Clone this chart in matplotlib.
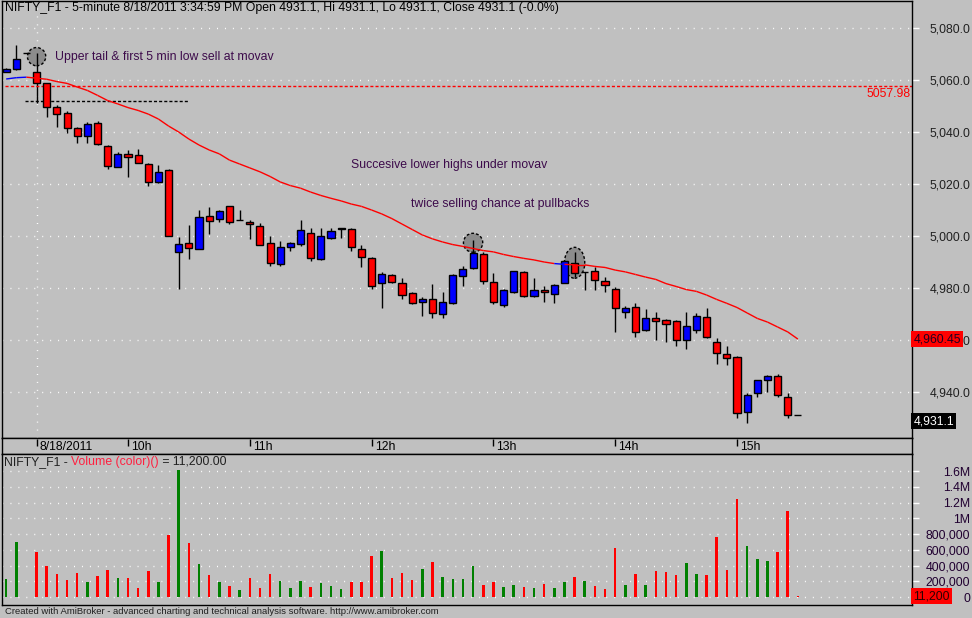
import numpy as np
import matplotlib
matplotlib.use("Agg")
import matplotlib.pyplot as plt
from matplotlib.patches import Ellipse
from matplotlib.collections import LineCollection
from matplotlib.transforms import blended_transform_factory

plt.rcParams['font.family'] = ['Liberation Sans', 'DejaVu Sans']

# 5-minute bars, 8/18/2011
opens = [5063.2, 5064.2, 5070.4, 5063.2, 5058.8, 5049.6, 5047.3, 5041.5, 5038.6, 5043.7,
         5034.7, 5026.8, 5031.7, 5031.3, 5027.8, 5021.0, 5025.5, 4994.1, 4997.3, 4995.0,
         5007.7, 5006.5, 5011.5, 5006.3, 5005.4, 5003.8, 4997.3, 4989.2, 4995.8, 4997.2,
         5001.2, 4991.2, 4999.5, 5002.9, 5002.9, 4995.2, 4991.5, 4981.9, 4985.0, 4981.9,
         4978.1, 4974.6, 4975.8, 4970.0, 4974.5, 4984.6, 4987.7, 4993.3, 4982.5, 4973.5,
         4978.5, 4986.2, 4977.0, 4979.3, 4977.8, 4982.2, 4989.6, 4986.3, 4986.8, 4982.9,
         4979.6, 4971.0, 4972.7, 4963.8, 4968.5, 4967.8, 4967.4, 4960.0, 4964.1, 4968.8,
         4959.2, 4954.6, 4953.5, 4932.3, 4939.6, 4944.6, 4946.2, 4938.1, 4931.1]
highs = [5064.6, 5073.6, 5070.4, 5070.5, 5059.0, 5050.6, 5048.3, 5042.2, 5044.1, 5044.5,
         5035.0, 5032.5, 5033.0, 5033.5, 5028.2, 5027.4, 5025.9, 4999.6, 5004.3, 5010.1,
         5011.2, 5010.0, 5011.8, 5010.0, 5006.3, 5005.0, 5000.1, 4998.3, 4997.8, 5006.3,
         5003.1, 5003.1, 5003.0, 5003.0, 5003.2, 4996.8, 4991.9, 4986.2, 4985.4, 4983.8,
         4978.6, 4976.8, 4981.7, 4978.5, 4985.3, 4988.7, 4998.6, 4993.8, 4985.8, 4979.6,
         4986.8, 4986.5, 4984.0, 4980.9, 4981.5, 4990.8, 4994.1, 4986.4, 4988.1, 4984.2,
         4980.5, 4973.2, 4974.3, 4972.0, 4970.9, 4968.0, 4967.6, 4970.9, 4970.5, 4972.3,
         4960.9, 4957.8, 4953.8, 4939.7, 4944.8, 4946.7, 4947.0, 4939.7, 4931.1]
lows = [5063.0, 5064.0, 5070.4, 5051.4, 5045.8, 5041.9, 5039.8, 5035.8, 5035.8, 5035.0,
        5025.8, 5026.5, 5022.9, 5028.0, 5019.5, 5020.6, 5000.0, 4979.6, 4991.4, 4995.0,
        5000.8, 5005.4, 5004.8, 5006.3, 4999.1, 4996.5, 4988.7, 4988.7, 4994.5, 4996.4,
        4990.6, 4991.0, 4999.0, 4999.2, 4994.5, 4988.1, 4979.6, 4972.5, 4982.0, 4975.8,
        4974.0, 4969.5, 4968.5, 4968.5, 4974.1, 4980.9, 4987.5, 4981.5, 4974.0, 4972.7,
        4978.0, 4976.8, 4976.8, 4974.8, 4974.5, 4982.0, 4984.2, 4979.3, 4979.3, 4978.4,
        4963.3, 4968.7, 4961.4, 4963.6, 4960.1, 4959.5, 4957.8, 4956.8, 4962.9, 4961.0,
        4951.0, 4950.6, 4930.2, 4928.3, 4938.3, 4940.2, 4938.3, 4930.2, 4931.1]
closes = [5064.3, 5068.1, 5070.4, 5058.8, 5049.6, 5047.0, 5041.5, 5038.6, 5043.1, 5035.5,
          5027.0, 5031.7, 5030.4, 5028.3, 5020.8, 5024.6, 5000.1, 4996.9, 4995.6, 5007.3,
          5005.8, 5009.6, 5005.4, 5006.4, 5004.6, 4996.5, 4989.6, 4995.8, 4997.3, 5002.3,
          4991.5, 5000.0, 5002.0, 5003.0, 4996.0, 4991.9, 4980.9, 4985.4, 4982.3, 4977.3,
          4974.2, 4975.8, 4970.4, 4974.6, 4985.0, 4987.4, 4993.5, 4982.7, 4974.6, 4979.2,
          4986.5, 4977.0, 4979.2, 4978.5, 4981.3, 4990.5, 4985.8, 4986.4, 4983.0, 4981.2,
          4972.3, 4972.3, 4963.1, 4968.5, 4967.5, 4966.4, 4960.0, 4965.4, 4969.2, 4961.2,
          4955.0, 4953.1, 4931.9, 4938.8, 4944.6, 4946.2, 4938.8, 4931.2, 4931.1]
volumes = [228, 698, 5, 571, 394, 292, 216, 305, 190, 267,
           343, 241, 241, 114, 330, 190, 787, 1613, 686, 419,
           279, 190, 140, 89, 241, 114, 292, 203, 114, 203,
           127, 178, 140, 102, 190, 190, 521, 584, 241, 305,
           216, 356, 444, 254, 228, 228, 394, 152, 190, 127,
           152, 127, 114, 165, 114, 190, 254, 203, 140, 102,
           622, 152, 292, 152, 330, 317, 279, 432, 292, 279,
           762, 343, 1244, 648, 483, 457, 571, 1092, 11.2]
movav = [5060.5, 5061.0, 5061.2, 5060.8, 5060.4, 5059.5, 5058.8, 5057.4, 5056.1, 5054.2,
         5052.2, 5050.9, 5049.5, 5048.4, 5047.0, 5045.1, 5042.4, 5040.1, 5037.4, 5035.1,
         5033.2, 5031.7, 5029.3, 5027.8, 5026.3, 5024.8, 5023.0, 5020.9, 5019.5, 5018.5,
         5017.0, 5015.7, 5014.6, 5013.6, 5012.4, 5011.5, 5010.1, 5008.6, 5006.8, 5004.7,
         5002.6, 5000.5, 4999.0, 4997.8, 4996.8, 4996.1, 4995.3, 4994.5, 4994.0, 4993.0,
         4992.2, 4991.5, 4990.9, 4990.1, 4989.5, 4989.2, 4989.0, 4989.0, 4988.4, 4988.0,
         4987.0, 4986.3, 4985.3, 4984.3, 4983.4, 4981.8, 4980.7, 4979.5, 4978.8, 4977.4,
         4975.7, 4974.2, 4972.6, 4970.5, 4968.4, 4967.0, 4965.1, 4963.2, 4960.45]

time_ticks = [3, 12, 24, 36, 48, 60, 72]
time_labels = ["8/18/2011", "10h", "11h", "12h", "13h", "14h", "15h"]
price_ticks = [4940, 4960, 4980, 5000, 5020, 5040, 5060, 5080]
vol_ticks = [0, 200000, 400000, 600000, 800000, 1000000, 1200000, 1400000, 1600000]
vol_labels = ["0", "200,000", "400,000", "600,000", "800,000", "1M", "1.2M", "1.4M", "1.6M"]

level_price = 5057.98
first_low = 5052.0
notes = [(4.8, 5069.1, "Upper tail & first 5 min low sell at movav"),
         (34.0, 5027.4, "Succesive lower highs under movav"),
         (39.9, 5012.4, "twice selling chance at pullbacks")]
marks = [(3, 5069.1, 1.8, 7.0), (46, 4997.5, 1.9, 7.3), (56, 4989.8, 2.0, 11.9)]

BG = "#c0c0c0"
FS = 8.8
W, H = 972, 618
fig = plt.figure(figsize=(W / 100, H / 100), dpi=100, facecolor=BG)


def px_axes(x0, y0, x1, y1):
    return fig.add_axes([x0 / W, 1 - y1 / H, (x1 - x0) / W, (y1 - y0) / H], facecolor=BG)


ax = px_axes(2, 1, 912, 438)
axt = px_axes(2, 438, 912, 454)
axv = px_axes(2, 454, 912, 605)

n = len(closes)
x = np.arange(n)
xlim = (-0.41, 89.24)
dots = (0, (0.72, 5.0))

for a in (ax, axt, axv):
    a.set_xlim(*xlim)
    a.set_xticks([])
    for s in a.spines.values():
        s.set_color("black")
        s.set_linewidth(1)

# price pane
ax.set_ylim(4922.4, 5090.5)
for p in price_ticks:
    ax.axhline(p, color="white", lw=1, ls=dots, zorder=0)
ax.axvline(time_ticks[0], color="white", lw=1, ls=dots, zorder=0)

for (mx, my, mw, mh) in marks:
    ax.add_patch(Ellipse((mx, my), mw, mh, facecolor="#8c8c8c", edgecolor="black",
                         lw=1, ls=(0, (2, 1.5)), zorder=1))

o = np.array(opens)
c = np.array(closes)
up = c > o
ax.vlines(x, lows, highs, color="black", lw=1, zorder=2)
ax.bar(x, np.abs(c - o), bottom=np.minimum(o, c), width=0.7,
       color=np.where(up, "#0000ff", "#ff0000"), edgecolor="black", lw=1, zorder=3)

# moving average, blue where close is above it
ma = np.array(movav)
segs = [[(i - 1, ma[i - 1]), (i, ma[i])] for i in range(1, n)]
seg_cols = ["#0000ff" if c[i] > ma[i] else "#ff0000" for i in range(1, n)]
ax.add_collection(LineCollection(segs, colors=seg_cols, lw=1.0, zorder=4))

ax.axhline(level_price, xmin=0.003, color="#ff0000", lw=1, ls=(0, (2.2, 1.5)), zorder=2)
ax.text(0.998, level_price - 0.9, f"{level_price:.2f}",
        transform=blended_transform_factory(ax.transAxes, ax.transData),
        ha="right", va="top", color="#ff0000", fontsize=FS)
ax.hlines(first_low, 1.85, 17.9, color="black", lw=1, ls=(0, (2.2, 1.5)), zorder=2)

for (tx, ty, t) in notes:
    ax.text(tx, ty, t, ha="left", va="center", color="#3c0a4a", fontsize=FS, zorder=5)

ax.text(3 / 910, 1 - 7.5 / 437,
        "NIFTY_F1 - 5-minute 8/18/2011 3:34:59 PM Open 4931.1, Hi 4931.1, Lo 4931.1, Close 4931.1 (-0.0%)",
        transform=ax.transAxes, ha="left", va="center", color="black", fontsize=FS)

ax.yaxis.tick_right()
ax.set_yticks(price_ticks)
ax.set_yticklabels([f"{p:,.1f}" for p in price_ticks])
ax.tick_params(axis="y", colors="white", length=5, width=1, labelcolor="#202020",
               labelsize=FS, pad=37)
for lab in ax.get_yticklabels():
    lab.set_ha("right")

side = blended_transform_factory(ax.transAxes, ax.transData)
ax.text(1.0015, ma[-1], f"{ma[-1]:,.2f}", transform=side, ha="left", va="center",
        color="#200020", fontsize=FS, clip_on=False, zorder=6,
        bbox=dict(boxstyle="square,pad=0.18", fc="#ff0000", ec="none"))
ax.text(1.0015, c[-1] - 2.2, f"{c[-1]:,.1f}", transform=side, ha="left", va="center",
        color="white", fontsize=FS, clip_on=False, zorder=6,
        bbox=dict(boxstyle="square,pad=0.18", fc="black", ec="none"))

# time strip
axt.set_ylim(0, 1)
axt.set_yticks([])
axt.vlines(time_ticks, 0.5, 0.94, color="black", lw=1)
for t, lab in zip(time_ticks, time_labels):
    axt.text(t + 0.3, 0.45, lab, ha="left", va="center", color="black", fontsize=FS)

# volume pane
axv.set_ylim(-101587, 1815873)
for v in vol_ticks:
    axv.axhline(v, color="white", lw=1, ls=dots, zorder=0)
vol = np.array(volumes) * 1000
axv.bar(x, vol, width=0.25, color=np.where(up, "#008000", "#ff0000"), lw=0, zorder=2)
axv.yaxis.tick_right()
axv.set_yticks(vol_ticks)
axv.set_yticklabels(vol_labels)
axv.tick_params(axis="y", colors="white", length=5, width=1, labelcolor="#200030",
                labelsize=FS, pad=37)
for lab in axv.get_yticklabels():
    lab.set_ha("right")

vside = blended_transform_factory(axv.transAxes, axv.transData)
axv.text(1.0015, vol[-1], f"{vol[-1]:,.0f}", transform=vside, ha="left", va="center",
         color="#300000", fontsize=FS, clip_on=False, zorder=6,
         bbox=dict(boxstyle="square,pad=0.18", fc="#ff0000", ec="none"))

t1 = axv.text(2 / 910, 1 - 8 / 151, "NIFTY_F1 - ", transform=axv.transAxes,
              ha="left", va="center", color="#202020", fontsize=FS)
t2 = axv.annotate("Volume (color)()", xy=(1, 0), xycoords=t1, ha="left", va="bottom",
                  color="#ff2040", fontsize=FS)
axv.annotate(" = 11,200.00", xy=(1, 0), xycoords=t2, ha="left", va="bottom",
             color="#202020", fontsize=FS)

fig.text(5 / W, 1 - 611 / H,
         "Created with AmiBroker - advanced charting and technical analysis software. http://www.amibroker.com",
         ha="left", va="center", color="#202020", fontsize=6.8)

fig.savefig("out.png", dpi=100, facecolor=BG)
